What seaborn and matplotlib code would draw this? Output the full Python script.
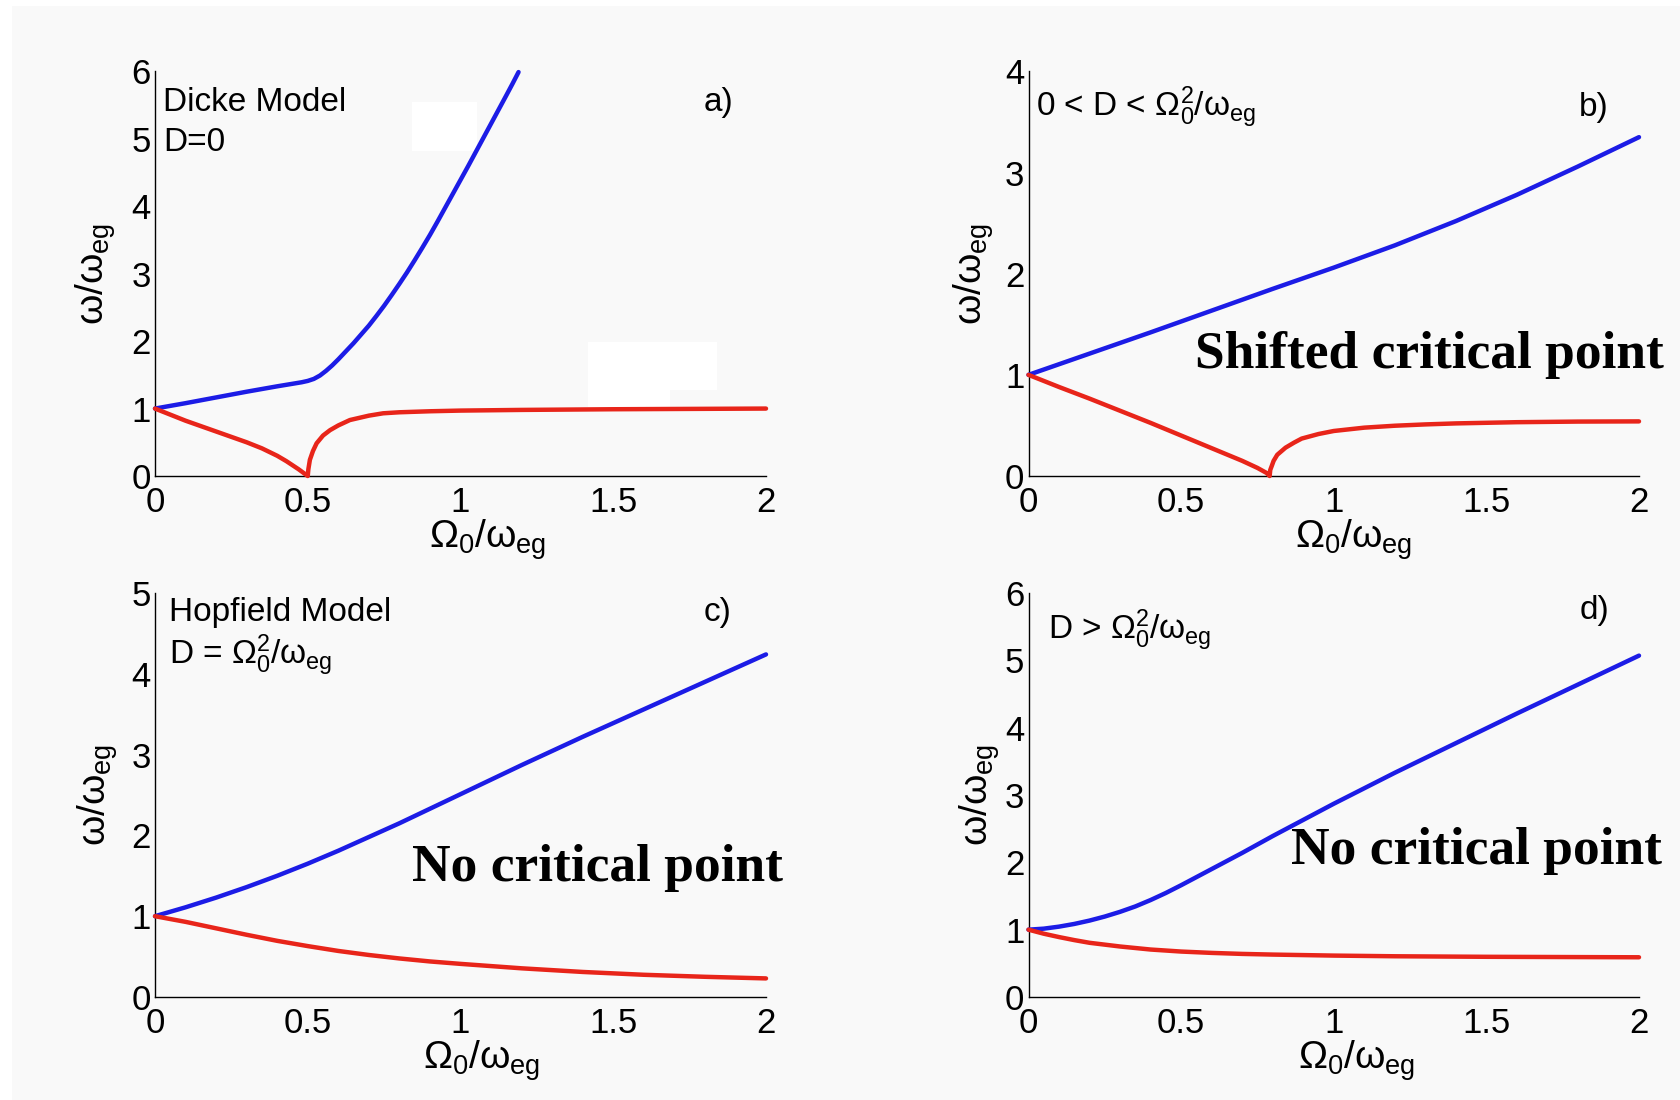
import matplotlib
matplotlib.use("Agg")
import matplotlib.pyplot as plt
from matplotlib.patches import Rectangle
import seaborn as sns

# ---- excitation branches, omega/omega_eg versus Omega_0/omega_eg ----
# a) Dicke model, D = 0
a_up_x = [0.0, 0.1, 0.2, 0.3, 0.4, 0.48, 0.5, 0.52, 0.54, 0.56, 0.58, 0.6, 0.625, 0.65,
          0.675, 0.7, 0.725, 0.75, 0.775, 0.8, 0.825, 0.85, 0.875, 0.9, 0.925, 0.95,
          0.975, 1.0, 1.025, 1.05, 1.075, 1.1, 1.125, 1.15, 1.17, 1.19]
a_up_y = [1.0, 1.08, 1.165, 1.25, 1.33, 1.39, 1.41, 1.44, 1.49, 1.56, 1.64, 1.73, 1.85, 1.97,
          2.1, 2.23, 2.375, 2.525, 2.685, 2.85, 3.02, 3.2, 3.385, 3.575, 3.775, 3.98,
          4.185, 4.39, 4.595, 4.805, 5.015, 5.225, 5.435, 5.645, 5.815, 5.99]
a_lo_x = [0.0, 0.05, 0.1, 0.15, 0.2, 0.25, 0.3, 0.35, 0.4, 0.43, 0.45, 0.47, 0.485, 0.5,
          0.502, 0.507, 0.517, 0.529, 0.55, 0.573, 0.6, 0.638, 0.7, 0.747, 0.8, 0.9,
          1.0, 1.2, 1.5, 2.0]
a_lo_y = [1.0, 0.91, 0.82, 0.74, 0.66, 0.58, 0.5, 0.41, 0.3, 0.22, 0.16, 0.1, 0.05, 0.0,
          0.1, 0.24, 0.37, 0.485, 0.6, 0.68, 0.75, 0.83, 0.895, 0.93, 0.945, 0.96,
          0.97, 0.98, 0.99, 1.0]

# b) 0 < D < Omega_0^2/omega_eg
b_up_x = [0.0, 0.2, 0.4, 0.6, 0.8, 0.9, 1.0, 1.2, 1.4, 1.6, 1.8, 2.0]
b_up_y = [1.0, 1.21, 1.42, 1.635, 1.85, 1.955, 2.06, 2.28, 2.52, 2.78, 3.06, 3.35]
b_lo_x = [0.0, 0.1, 0.2, 0.3, 0.4, 0.5, 0.6, 0.7, 0.75, 0.78, 0.79, 0.792, 0.797, 0.803,
          0.815, 0.842, 0.87, 0.895, 0.95, 1.0, 1.1, 1.2, 1.3, 1.4, 1.6, 1.8, 2.0]
b_lo_y = [1.0, 0.88, 0.765, 0.645, 0.525, 0.4, 0.275, 0.15, 0.08, 0.03, 0.0, 0.06, 0.1, 0.15,
          0.21, 0.28, 0.33, 0.37, 0.415, 0.445, 0.478, 0.497, 0.51, 0.52, 0.532, 0.538, 0.54]

# c) Hopfield model, D = Omega_0^2/omega_eg
c_up_x = [0.0, 0.1, 0.2, 0.3, 0.4, 0.5, 0.6, 0.7, 0.8, 0.9, 1.0, 1.2, 1.4, 1.6, 1.8, 2.0]
c_up_y = [1.0, 1.11, 1.23, 1.36, 1.5, 1.65, 1.81, 1.98, 2.15, 2.33, 2.51, 2.87, 3.22, 3.56,
          3.9, 4.24]
c_lo_x = [0.0, 0.05, 0.1, 0.2, 0.3, 0.4, 0.5, 0.6, 0.7, 0.8, 0.9, 1.0, 1.2, 1.4, 1.6, 1.8, 2.0]
c_lo_y = [1.0, 0.965, 0.93, 0.85, 0.77, 0.695, 0.63, 0.57, 0.52, 0.477, 0.44, 0.41, 0.355,
          0.31, 0.275, 0.25, 0.23]

# d) D > Omega_0^2/omega_eg
d_up_x = [0.0, 0.05, 0.1, 0.15, 0.2, 0.25, 0.3, 0.35, 0.4, 0.45, 0.5, 0.6, 0.7, 0.8, 0.9,
          1.0, 1.2, 1.4, 1.6, 1.8, 2.0]
d_up_y = [1.0, 1.015, 1.045, 1.085, 1.135, 1.195, 1.265, 1.345, 1.44, 1.545, 1.66, 1.9, 2.14,
          2.39, 2.63, 2.87, 3.33, 3.77, 4.21, 4.64, 5.07]
d_lo_x = [0.0, 0.05, 0.1, 0.15, 0.2, 0.3, 0.4, 0.5, 0.6, 0.7, 0.8, 1.0, 1.2, 1.5, 2.0]
d_lo_y = [1.0, 0.94, 0.89, 0.845, 0.805, 0.75, 0.705, 0.675, 0.655, 0.64, 0.63, 0.615, 0.605,
          0.597, 0.59]

x_ticks = [0, 0.5, 1, 1.5, 2]
x_tick_labels = ["0", "0.5", "1", "1.5", "2"]
y_tops = [6, 4, 5, 6]
panel_tags = ["a)", "b)", "c)", "d)"]
model_notes = [
    ["Dicke Model", "D=0"],
    [r"0 < D < $\Omega_0^2/\omega_{eg}$"],
    ["Hopfield Model", r"D = $\Omega_0^2/\omega_{eg}$"],
    [r"D > $\Omega_0^2/\omega_{eg}$"],
]
verdicts = [None, "Shifted critical point", "No critical point", "No critical point"]

sns.set_theme(style="white")
plt.rcParams["font.family"] = ["Liberation Sans", "DejaVu Sans"]
plt.rcParams["mathtext.fontset"] = "custom"
plt.rcParams["mathtext.rm"] = "Liberation Sans"
plt.rcParams["mathtext.it"] = "Liberation Sans"
plt.rcParams["mathtext.sf"] = "Liberation Sans"
plt.rcParams["mathtext.bf"] = "Liberation Sans:bold"

BLUE = "#1c1ce6"
RED = "#e8251a"
BG = "#f9f9f9"
W, H = 1680, 1100

fig = plt.figure(figsize=(16.8, 11), dpi=100, facecolor="white")


def px_rect(x0, y0, x1, y1, color, z):
    """Rectangle given in figure pixels measured from the top-left corner."""
    fig.patches.append(Rectangle((x0 / W, 1 - y1 / H), (x1 - x0) / W, (y1 - y0) / H,
                                 transform=fig.transFigure, facecolor=color,
                                 edgecolor="none", zorder=z))


# light grey page with a thin white margin on the top and left edges
px_rect(12, 6, W, H, BG, -3)
# blank white patches in the first panel
px_rect(412, 102, 477, 151, "white", -2)
px_rect(588, 342, 717, 390, "white", -2)
px_rect(588, 390, 670, 407, "white", -2)

positions = [
    [155 / W, 1 - 476 / H, 611 / W, 404.6 / H],
    [1028.5 / W, 1 - 476 / H, 610.5 / W, 404.6 / H],
    [155 / W, 1 - 997 / H, 611 / W, 404 / H],
    [1028.5 / W, 1 - 997 / H, 610.5 / W, 404 / H],
]
curves = [
    (a_up_x, a_up_y, a_lo_x, a_lo_y),
    (b_up_x, b_up_y, b_lo_x, b_lo_y),
    (c_up_x, c_up_y, c_lo_x, c_lo_y),
    (d_up_x, d_up_y, d_lo_x, d_lo_y),
]
note_x = [0.013, 0.012, 0.023, 0.032]
note_y = [[0.903, 0.803], [0.89], [0.93, 0.824], [0.887]]
tag_pos = [(0.898, 0.901), (0.902, 0.89), (0.898, 0.93), (0.902, 0.935)]
verdict_pos = [None, (0.273, 0.268), (0.421, 0.288), (0.43, 0.328)]
ylabel_x = [-0.06, -0.053, -0.057, -0.043]
xlabel_x = [0.544, 0.532, 0.535, 0.537]

for i, pos in enumerate(positions):
    ax = fig.add_axes(pos)
    ax.set_facecolor("none")
    ux, uy, lx, ly = curves[i]
    sns.lineplot(x=ux, y=uy, ax=ax, color=BLUE, linewidth=3.2, sort=False,
                 estimator=None, clip_on=False, zorder=3)
    sns.lineplot(x=lx, y=ly, ax=ax, color=RED, linewidth=3.2, sort=False,
                 estimator=None, clip_on=False, zorder=3)

    ax.set_xlim(0, 2)
    ax.set_ylim(0, y_tops[i])
    ax.set_xticks(x_ticks)
    ax.set_xticklabels(x_tick_labels)
    ax.set_yticks(range(0, y_tops[i] + 1))
    for s in ("top", "right"):
        ax.spines[s].set_visible(False)
    for s in ("left", "bottom"):
        ax.spines[s].set_color("black")
        ax.spines[s].set_linewidth(1.0)
    ax.tick_params(axis="both", direction="in", length=4.5, width=1.0,
                   colors="black", labelsize=25)
    ax.tick_params(axis="x", pad=7.5)
    ax.tick_params(axis="y", pad=3)

    ax.set_xlabel(r"$\Omega_0/\omega_{eg}$", fontsize=28, color="black")
    ax.xaxis.set_label_coords(xlabel_x[i], -0.102)
    ax.set_ylabel(r"$\omega/\omega_{eg}$", fontsize=28, color="black")
    ax.yaxis.set_label_coords(ylabel_x[i], 0.5)

    for line, ny in zip(model_notes[i], note_y[i]):
        ax.text(note_x[i], ny, line, transform=ax.transAxes, fontsize=24,
                ha="left", va="baseline", color="black")
    tx, ty = tag_pos[i]
    ax.text(tx, ty, panel_tags[i], transform=ax.transAxes, fontsize=24,
            ha="left", va="baseline", color="black")
    if verdicts[i]:
        vx, vy = verdict_pos[i]
        ax.text(vx, vy, verdicts[i], transform=ax.transAxes, fontsize=38.5,
                fontweight="bold", family=["Liberation Serif", "DejaVu Serif"],
                ha="left", va="baseline", color="black", clip_on=False, zorder=5)

fig.savefig("out.png", dpi=100, facecolor=fig.get_facecolor())
